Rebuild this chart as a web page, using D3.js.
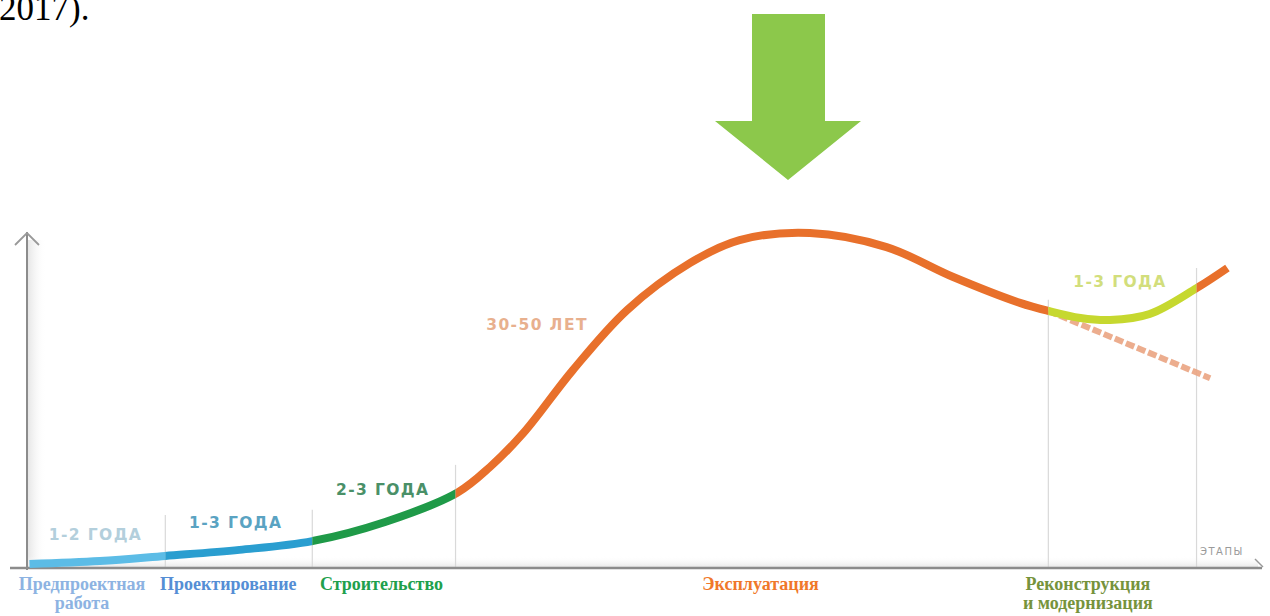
<!DOCTYPE html>
<html><head><meta charset="utf-8">
<script src="https://cdn.jsdelivr.net/npm/d3@7"></script>
<style>html,body{margin:0;padding:0;background:#fff;}svg{display:block;}</style>
</head><body>
<script>
// ---- data ----
const curveX = [0.2, 5.9, 11.2, 17.2, 23.1, 29.0, 34.8, 37.5, 40.2, 44.2, 48.6, 53.7, 57.7, 63.4, 69.6, 75.0, 80.4, 82.7, 85.3, 87.7, 90.9, 94.7, 97.2];
const curveY = [1.2, 2.1, 3.6, 5.4, 8.0, 13.7, 22.3, 30.1, 40.2, 58.9, 76.8, 90.8, 97.6, 99.7, 95.5, 86.6, 78.9, 76.5, 74.4, 73.8, 75.6, 83.3, 89.3];
const declineX = [82.7, 95.8];
const declineY = [76.5, 56.5];
const stageStart = [0, 11.2, 23.1, 34.7, 82.7, 94.7];
const stageEnd   = [11.2, 23.1, 34.7, 82.7, 94.7, 100];
const stageColors = ["#5cbce6", "#2a9ed0", "#1f9a48", "#e8702b", "#c6d82f", "#e8702b"];
const boundaryX = [11.2, 23.1, 34.7, 82.7, 94.7];
const boundaryTop = [15.8, 17.3, 30.7, 79.8, 89.3];
const durationLabels = ["1-2 ГОДА", "1-3 ГОДА", "2-3 ГОДА", "30-50 ЛЕТ", "1-3 ГОДА"];
const durationX = [5.55, 16.9, 28.8, 41.3, 88.5];
const durationY = [8.3, 11.9, 21.7, 70.8, 83.6];
const durationColors = ["#b3cfdc", "#5aa3c2", "#4a9068", "#e8b08e", "#d2de7c"];
const stageNames = [["Предпроектная", "работа"], ["Проектирование"], ["Строительство"], ["Эксплуатация"], ["Реконструкция", "и модернизация"]];
const stageNameX = [4.45, 16.3, 28.7, 59.4, 85.9];
const stageNameColors = ["#8db3e2", "#558ed5", "#20a04c", "#f0782a", "#76933c"];

// ---- layout ----
const W = 1270, H = 616;
const svg = d3.select("body").append("svg").attr("width", W).attr("height", H);
const x = d3.scaleLinear().domain([0, 100]).range([27, 1262]);
const y = d3.scaleLinear().domain([0, 100]).range([568, 232]);
const defs = svg.append("defs");

// header text fragment (cut at the top, as in the source)
svg.append("text").attr("x", -1).attr("y", 20).attr("font-family", "Liberation Serif, Times New Roman, serif")
  .attr("font-size", 35).attr("fill", "#000").text("2017).");

// green arrow
const ap = d3.path();
ap.moveTo(752, 14); ap.lineTo(825, 14); ap.lineTo(825, 121); ap.lineTo(861, 121);
ap.lineTo(788, 180); ap.lineTo(715, 121); ap.lineTo(752, 121); ap.closePath();
svg.append("path").attr("d", ap.toString()).attr("fill", "#8cc84b");

// shadow gradients near axes
const gv = defs.append("linearGradient").attr("id", "gv").attr("x1", 0).attr("x2", 1).attr("y1", 0).attr("y2", 0);
gv.append("stop").attr("offset", 0).attr("stop-color", "#e6e6e6");
gv.append("stop").attr("offset", 1).attr("stop-color", "#ffffff").attr("stop-opacity", 0);
svg.append("rect").attr("x", 28).attr("y", 240).attr("width", 18).attr("height", 326).attr("fill", "url(#gv)");
const gh = defs.append("linearGradient").attr("id", "gh").attr("x1", 0).attr("x2", 0).attr("y1", 1).attr("y2", 0);
gh.append("stop").attr("offset", 0).attr("stop-color", "#e9e9e9");
gh.append("stop").attr("offset", 1).attr("stop-color", "#ffffff").attr("stop-opacity", 0);
svg.append("rect").attr("x", 28).attr("y", 556).attr("width", 1230).attr("height", 11).attr("fill", "url(#gh)");

// boundary gridlines
svg.selectAll("line.grid").data(boundaryX).join("line").attr("class", "grid")
  .attr("x1", d => x(d)).attr("x2", d => x(d))
  .attr("y1", (d, i) => y(boundaryTop[i])).attr("y2", y(0))
  .attr("stroke", "#d9d9d9").attr("stroke-width", 1.2);

// axes
svg.append("line").attr("x1", x(0)).attr("x2", x(0)).attr("y1", 232).attr("y2", 570)
  .attr("stroke", "#8c8c8c").attr("stroke-width", 2);
svg.append("path").attr("d", `M${x(0)-12},245 L${x(0)},233 L${x(0)+12},245`)
  .attr("fill", "none").attr("stroke", "#999").attr("stroke-width", 1.8);
svg.append("line").attr("x1", 10).attr("x2", 1262).attr("y1", y(0)).attr("y2", y(0))
  .attr("stroke", "#8c8c8c").attr("stroke-width", 2.4);
svg.append("path").attr("d", `M1255,559 L1263,567`).attr("fill", "none").attr("stroke", "#999").attr("stroke-width", 1.5);
svg.append("text").attr("x", 1200).attr("y", 555).attr("font-family", "DejaVu Sans, sans-serif")
  .attr("font-size", 10).attr("letter-spacing", 1.5).attr("fill", "#9a9a9a").text("ЭТАПЫ");

// curve
const pts = curveX.map((d, i) => [d, curveY[i]]);
const line = d3.line().x(d => x(d[0])).y(d => y(d[1])).curve(d3.curveCatmullRom.alpha(0.5));

// dashed decline
const dpts = declineX.map((d, i) => [d, declineY[i]]);
svg.append("path").attr("d", d3.line().x(d => x(d[0])).y(d => y(d[1]))(dpts))
  .attr("fill", "none").attr("stroke", "#eaa482").attr("stroke-width", 6)
  .attr("stroke-dasharray", "9,3").attr("opacity", 0.9);

stageStart.forEach((s, i) => {
  const id = "clip" + i;
  defs.append("clipPath").attr("id", id).append("rect")
    .attr("x", x(s)).attr("y", 0).attr("width", x(stageEnd[i]) - x(s)).attr("height", H);
  svg.append("path").attr("d", line(pts)).attr("fill", "none")
    .attr("stroke", stageColors[i]).attr("stroke-width", 8).attr("stroke-linecap", "butt")
    .attr("clip-path", `url(#${id})`);
});

// duration labels
svg.selectAll("text.dur").data(durationLabels).join("text").attr("class", "dur")
  .attr("x", (d, i) => x(durationX[i])).attr("y", (d, i) => y(durationY[i]))
  .attr("text-anchor", "middle").attr("font-family", "DejaVu Sans, sans-serif")
  .attr("font-weight", "bold").attr("font-size", 15.5).attr("letter-spacing", 1.4)
  .attr("fill", (d, i) => durationColors[i]).text(d => d);

// stage names
stageNames.forEach((lines, i) => {
  lines.forEach((t, j) => {
    svg.append("text").attr("x", x(stageNameX[i])).attr("y", 590 + j * 19)
      .attr("text-anchor", "middle").attr("font-family", "Liberation Serif, Times New Roman, serif")
      .attr("font-weight", "bold").attr("font-size", 18).attr("fill", stageNameColors[i]).text(t);
  });
});
</script>
</body></html>
